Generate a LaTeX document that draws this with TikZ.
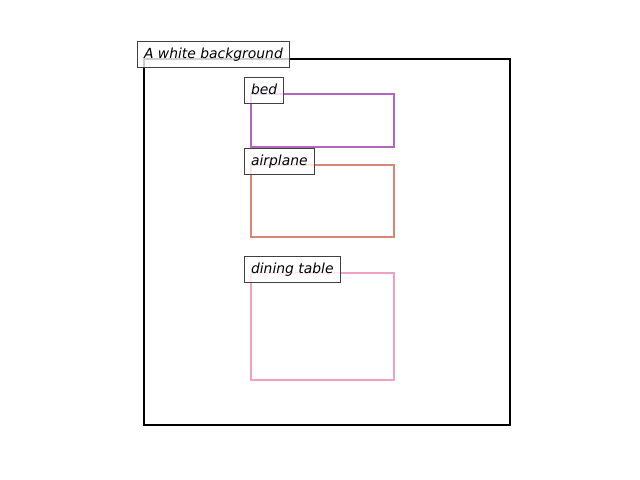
\documentclass[tikz,border=0pt]{standalone}
\usepackage{fontspec}
\setmainfont{DejaVu Sans}
\begin{document}
\begin{tikzpicture}[x=0.72pt,y=-0.72pt,
  tag/.style={anchor=south west, font=\itshape\fontsize{10}{12}\selectfont,
    fill=white, fill opacity=0.8, text opacity=1, draw=black!75, draw opacity=1,
    line width=0.7pt, inner xsep=4.7pt, inner ysep=0pt,
    text height=12.5pt, text depth=6.6pt},
  region/.style={line width=1.8pt}]
\definecolor{bedc}{RGB}{178,102,190}
\definecolor{planec}{RGB}{217,133,119}
\definecolor{tablec}{RGB}{242,160,192}
\fill[white] (0,0) rectangle (640,480);
\useasboundingbox (0,0) rectangle (640,480);
% scene frame and object regions
\draw[line width=1.6pt] (144,59) rectangle (510,425);
\draw[region, bedc] (251,94) rectangle (394,147);
\draw[region, planec] (251,165) rectangle (394,237);
\draw[region, tablec] (251,273) rectangle (394,380);
% captions
\node[tag] (scene) at (137,68) {A white background};
\node[tag] (bed) at (244,104) {bed};
\node[tag] (plane) at (244,175) {airplane};
\node[tag] (table) at (244,283) {dining table};
\end{tikzpicture}
\end{document}
